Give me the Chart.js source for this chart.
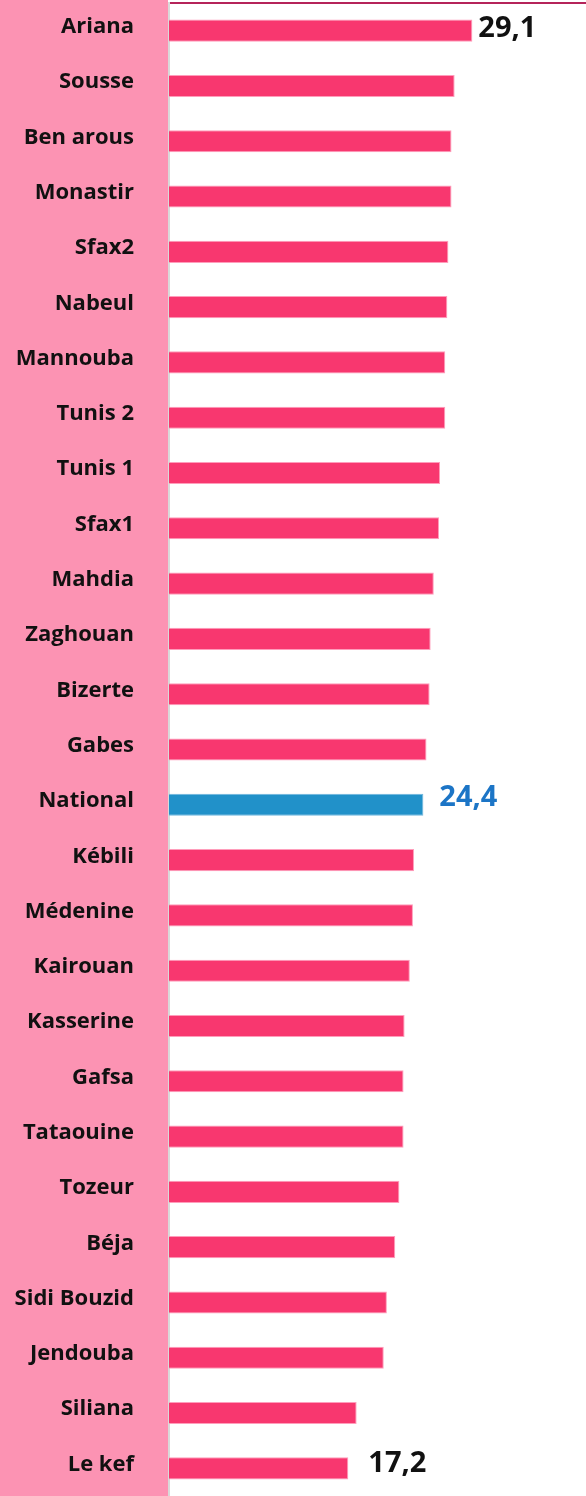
<!DOCTYPE html>
<html>
<head>
<meta charset="utf-8">
<script src="https://cdn.jsdelivr.net/npm/chart.js@4/dist/chart.umd.min.js"></script>
<style>
  html, body { margin: 0; padding: 0; background: #ffffff; }
  #wrap { position: relative; width: 586px; height: 1496px; }
</style>
</head>
<body>
<div id="wrap"><canvas id="c" width="586" height="1496"></canvas></div>
<script>
const categories = ["Ariana","Sousse","Ben arous","Monastir","Sfax2","Nabeul","Mannouba","Tunis 2","Tunis 1","Sfax1","Mahdia","Zaghouan","Bizerte","Gabes","National","Kébili","Médenine","Kairouan","Kasserine","Gafsa","Tataouine","Tozeur","Béja","Sidi Bouzid","Jendouba","Siliana","Le kef"];
const values = [29.1,27.4,27.1,27.1,26.8,26.7,26.5,26.5,26.0,25.9,25.4,25.1,25.0,24.7,24.4,23.5,23.4,23.1,22.6,22.5,22.5,22.1,21.7,20.9,20.6,18.0,17.2];
const valueLabels = {0: "29,1", 14: "24,4", 26: "17,2"};
const highlight = "National";
const xMin = 0;
const xMax = 40;

const PINK = "#F8376F";
const BLUE = "#2191C9";
const labelStyle = {
  0:  { dx: 6,  dy: -2, color: "#111111" },
  14: { dx: 16, dy: -7, color: "#1C75C6" },
  26: { dx: 20, dy: -5, color: "#111111" }
};

const panelPlugin = {
  id: "panel",
  beforeDraw(chart) {
    const ctx = chart.ctx;
    ctx.save();
    ctx.fillStyle = "#FC93B3";
    ctx.fillRect(0, 0, chart.chartArea.left - 1, chart.height);
    ctx.restore();
  }
};

const valueLabelPlugin = {
  id: "valueLabels",
  afterDatasetsDraw(chart) {
    const ctx = chart.ctx;
    const meta = chart.getDatasetMeta(0);
    ctx.save();
    ctx.font = "bold 29px 'Open Sans'";
    ctx.textAlign = "left";
    ctx.textBaseline = "middle";
    Object.keys(valueLabels).forEach(k => {
      const i = Number(k);
      const el = meta.data[i];
      const st = labelStyle[i];
      ctx.fillStyle = st.color;
      ctx.fillText(valueLabels[i], el.x + st.dx, el.y + st.dy);
    });
    ctx.restore();
  }
};

new Chart(document.getElementById("c"), {
  type: "bar",
  data: {
    labels: categories,
    datasets: [{
      data: values,
      backgroundColor: categories.map(c => c === highlight ? BLUE : PINK),
      borderColor: categories.map(c => c === highlight ? "#6FB6DD" : "#FF9DBB"),
      borderWidth: 1,
      borderSkipped: "left",
      categoryPercentage: 1,
      barPercentage: 0.4
    }]
  },
  options: {
    indexAxis: "y",
    responsive: false,
    animation: false,
    devicePixelRatio: 1,
    layout: { padding: 0 },
    plugins: { legend: { display: false }, tooltip: { enabled: false } },
    scales: {
      x: {
        position: "top",
        min: xMin,
        max: xMax,
        grid: { display: false, drawTicks: false },
        ticks: { display: false },
        border: { display: true, color: "#B5245A", width: 2 },
        afterFit(scale) {
          scale.height = 3;
          scale.paddingLeft = 0; scale.paddingRight = 0;
        }
      },
      y: {
        grid: { display: false, drawTicks: false },
        border: { display: true, color: "#D9D9D9", width: 2 },
        ticks: {
          padding: 35,
          color: "#111111",
          font: { family: "'Open Sans'", weight: "bold", size: 22, lineHeight: 0.35 },
          callback(value, index) { return [categories[index], ""]; }
        },
        afterFit(scale) {
          scale.width = 169;
          scale.paddingTop = 0; scale.paddingBottom = 0;
        }
      }
    }
  },
  plugins: [panelPlugin, valueLabelPlugin]
});
</script>
</body>
</html>
